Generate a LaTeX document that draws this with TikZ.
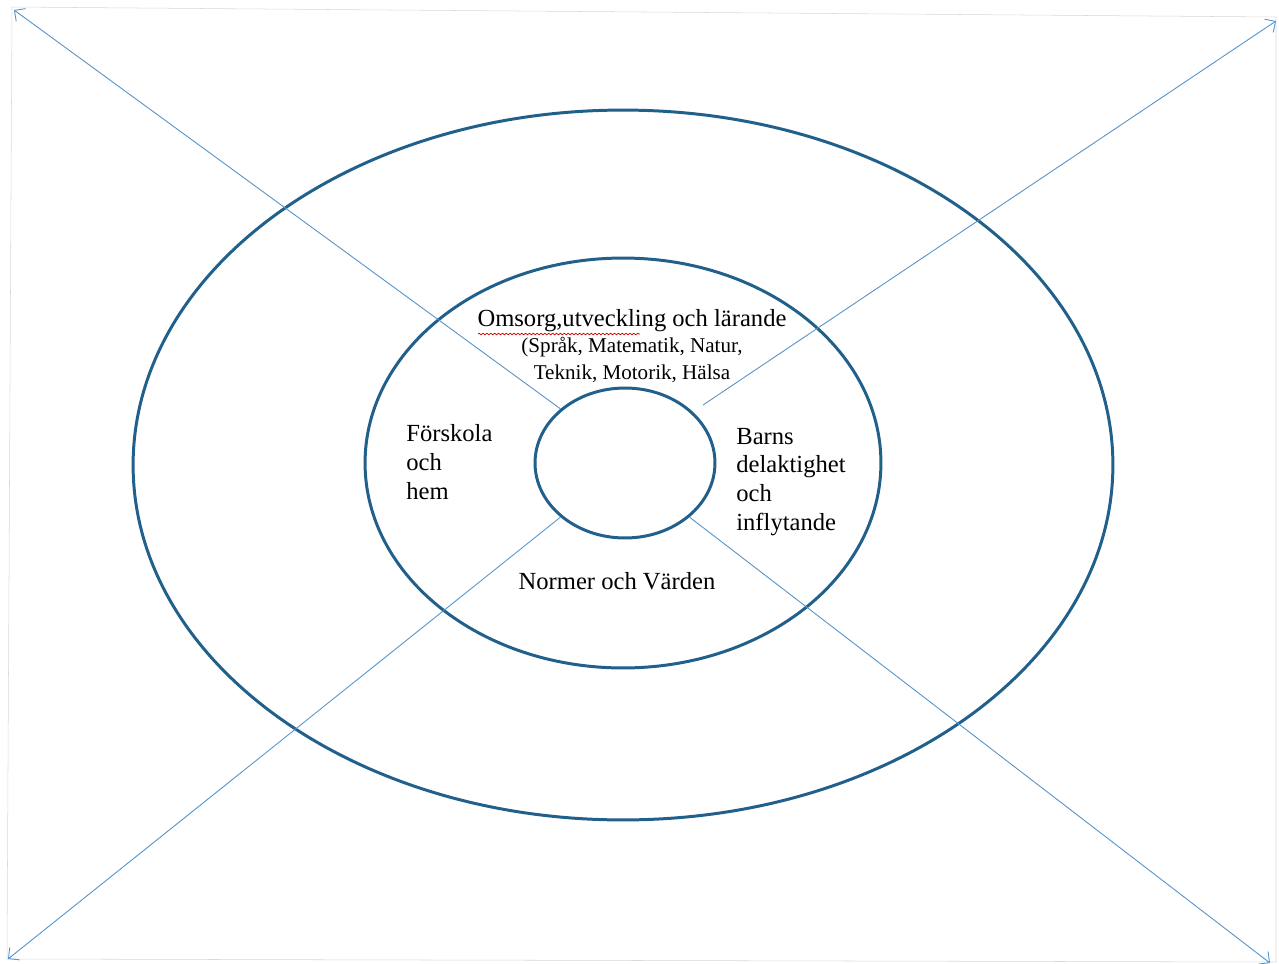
\documentclass[tikz,border=0pt]{standalone}
\usepackage{fontspec}
\setmainfont{Liberation Serif}
\usetikzlibrary{shapes.geometric,decorations.pathmorphing,arrows.meta}

\definecolor{ringblue}{RGB}{34,96,140}
\definecolor{rayblue}{RGB}{84,146,200}

\tikzset{
  ring/.style={draw=ringblue, line width=1.7pt, ellipse, inner sep=0pt},
  ray/.style={draw=rayblue, line width=0.5pt, -{Straight Barb[length=4.5pt,width=9pt]}},
  label/.style={inner sep=0pt, font=\fontsize{14}{16.4}\selectfont},
  spell/.style={draw=red!80!black, line width=0.4pt, decorate,
    decoration={snake, amplitude=0.45pt, segment length=2.2pt}}
}

\begin{document}
\begin{tikzpicture}[x=0.02cm,y=-0.02cm]
\useasboundingbox (0,0) rectangle (1279,964);

% scanned page edge
\draw[black!15, line width=0.3pt] (12,7) -- (1276,17) -- (1276,962) -- (7,959) -- cycle;

% rings
\node[ring, minimum width=19.6cm, minimum height=14.2cm] (outer) at (623,465) {};
\node[ring, minimum width=10.32cm, minimum height=8.2cm] (middle) at (623,463) {};
\node[ring, minimum width=3.6cm, minimum height=3cm] (inner) at (625,463) {};

% corner ends
\coordinate (tl) at (14,10);
\coordinate (tr) at (1276,21);
\coordinate (bl) at (8,959);
\coordinate (br) at (1270,963);
\coordinate (trstart) at (703,405);

\draw[ray] (inner.140) -- (tl);
\draw[ray] (trstart) -- (tr);
\draw[ray] (inner.220) -- (bl);
\draw[ray] (inner.320) -- (br);

% texts
\node[label, align=center] (care) at (632,346) {Omsorg,utveckling och lärande\\[-2pt]
  {\fontsize{12}{14.2}\selectfont (Språk, Matematik, Natur,}\\[-1pt]
  {\fontsize{12}{14.2}\selectfont Teknik, Motorik, Hälsa}};
\draw[spell] (478,334) -- (640,334);

\node[label, align=left, anchor=west] (home) at (406,462) {Förskola\\och\\hem};
\node[label, align=left, anchor=west] (influence) at (736,482) {Barns\\delaktighet\\och\\inflytande};
\node[label] (norms) at (617,581) {Normer och Värden};
\end{tikzpicture}
\end{document}
